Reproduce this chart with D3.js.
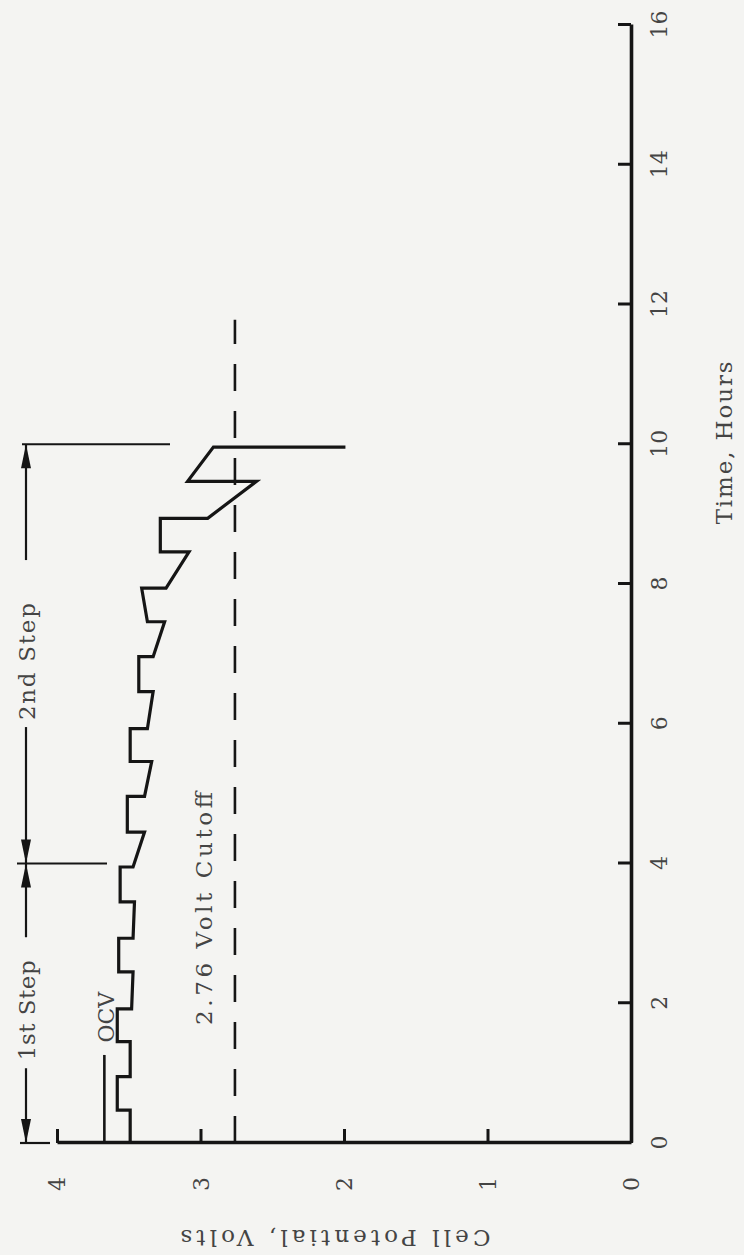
<!DOCTYPE html>
<html><head><meta charset="utf-8">
<script src="https://cdn.jsdelivr.net/npm/d3@7"></script>
<style>
html,body{margin:0;padding:0;background:#f4f4f2;}
svg{display:block;}
text{font-family:"DejaVu Serif","Liberation Serif",serif;fill:#444;}
</style></head>
<body>
<svg id="chart" width="744" height="1255"></svg>
<script>
// ---------- data ----------
const timeTicks = [0, 2, 4, 6, 8, 10, 12, 14, 16];
const voltTicks = [0, 1, 2, 3, 4];

// cell potential trace (time in hours, volts)
const curveTime = [0, 0.47, 0.47, 0.95, 0.95, 1.45, 1.45, 1.92, 1.92, 2.45, 2.45, 2.93, 2.93, 3.45, 3.45, 3.95,
  3.95, 4.45, 4.45, 4.96, 4.96, 5.46, 5.46, 5.93, 5.93, 6.46, 6.46, 6.96, 6.96, 7.46, 7.46, 7.94, 7.94, 8.46, 8.46,
  8.94, 8.94, 9.47, 9.47, 9.96, 9.96];
const curveVolt = [3.49, 3.49, 3.58, 3.58, 3.49, 3.49, 3.58, 3.58, 3.48, 3.47, 3.57, 3.57, 3.47, 3.46, 3.56, 3.56,
  3.47, 3.39, 3.51, 3.51, 3.39, 3.34, 3.49, 3.49, 3.37, 3.33, 3.43, 3.43, 3.33, 3.25, 3.37, 3.41, 3.24, 3.08, 3.28,
  3.28, 2.95, 2.61, 3.09, 2.91, 1.99];

// open circuit voltage line
const ocvTime = [0, 1.26];
const ocvVolt = [3.67, 3.67];

// 2.76 V cutoff (dashed)
const cutoffTime = [0, 11.78];
const cutoffVolt = [2.76, 2.76];

// step boundaries and labels
const stepBounds = [0, 4, 10];
const stepLabels = ["1st Step", "2nd Step"];
const stepLabelCenters = [1.9, 6.89];

// ---------- layout ----------
const W = 1118, H = 574;          // plot size in the un-rotated frame
const originX = 57, originY = 1143;

const svg = d3.select("#chart");
svg.append("rect").attr("width", 744).attr("height", 1255).attr("fill", "#f4f4f2");

const g = svg.append("g").attr("transform", `translate(${originX},${originY}) rotate(-90)`);

const x = d3.scaleLinear().domain([0, 16]).range([0, W]);
const y = d3.scaleLinear().domain([0, 4]).range([H, 0]);

const ink = "#151515";

// time axis
const xAxis = g.append("g").attr("transform", `translate(0,${H})`)
  .call(d3.axisBottom(x).tickValues(timeTicks).tickSizeInner(-13).tickSizeOuter(0).tickFormat(d3.format("d")));
xAxis.select(".domain").attr("stroke", ink).attr("stroke-width", 3.6);
xAxis.selectAll(".tick line").attr("stroke", ink).attr("stroke-width", 3);
xAxis.selectAll(".tick text").attr("y", 36).attr("dy", null)
  .style("font-size", "22px").style("font-family", '"DejaVu Serif",serif').attr("fill", "#4a4a4a");

// voltage axis
const yAxis = g.append("g")
  .call(d3.axisLeft(y).tickValues(voltTicks).tickSizeInner(-14).tickSizeOuter(0).tickFormat(d3.format("d")));
yAxis.select(".domain").attr("stroke", ink).attr("stroke-width", 3.6);
yAxis.selectAll(".tick line").attr("stroke", ink).attr("stroke-width", 3);
yAxis.selectAll(".tick text").attr("x", -41).attr("text-anchor", "middle").attr("dy", "0.36em")
  .style("font-size", "22px").style("font-family", '"DejaVu Serif",serif').attr("fill", "#4a4a4a");

// axis titles
g.append("text")
  .attr("transform", `translate(-87,${y(2.06)}) rotate(-90)`)
  .attr("text-anchor", "middle")
  .attr("textLength", 310).attr("lengthAdjust", "spacing")
  .style("font-size", "23px")
  .text("Cell Potential, Volts");

g.append("text")
  .attr("x", x(10.02)).attr("y", H + 101)
  .attr("text-anchor", "middle")
  .attr("textLength", 163).attr("lengthAdjust", "spacing")
  .style("font-size", "23px")
  .text("Time, Hours");

// cutoff dashed line
const line = d3.line().x(d => x(d[0])).y(d => y(d[1]));
g.append("path")
  .datum(d3.zip(cutoffTime, cutoffVolt))
  .attr("d", line).attr("fill", "none").attr("stroke", ink)
  .attr("stroke-width", 2.6).attr("stroke-dasharray", "27,20");

g.append("text")
  .attr("x", x(1.69)).attr("y", y(2.92))
  .attr("textLength", 233).attr("lengthAdjust", "spacing")
  .style("font-size", "23px")
  .text("2.76 Volt Cutoff");

// OCV line
g.append("path")
  .datum(d3.zip(ocvTime, ocvVolt))
  .attr("d", line).attr("fill", "none").attr("stroke", ink).attr("stroke-width", 2.6);
g.append("text")
  .attr("x", x(1.8)).attr("y", y(3.6))
  .attr("text-anchor", "middle")
  .style("font-size", "22px")
  .text("OCV");

// main trace
g.append("path")
  .datum(d3.zip(curveTime, curveVolt))
  .attr("d", line).attr("fill", "none").attr("stroke", ink)
  .attr("stroke-width", 3.2).attr("stroke-linejoin", "miter");

// ---------- step dimension annotation ----------
const dimV = -31;          // offset of dimension line above the plot (un-rotated frame)
const labelLens = [100, 117];
const gapBefore = [8, 7], gapAfter = [23, 43];
const dim = g.append("g").attr("stroke", ink).attr("stroke-width", 2.2);

stepLabels.forEach((lab, i) => {
  const a = x(stepBounds[i]), b = x(stepBounds[i + 1]);
  const c = x(stepLabelCenters[i]);
  const s = c - labelLens[i] / 2, e = c + labelLens[i] / 2;
  dim.append("line").attr("x1", a).attr("x2", s - gapBefore[i]).attr("y1", dimV).attr("y2", dimV);
  dim.append("line").attr("x1", e + gapAfter[i]).attr("x2", b).attr("y1", dimV).attr("y2", dimV);
  g.append("text").attr("x", c).attr("y", dimV + 9)
    .attr("text-anchor", "middle")
    .attr("textLength", labelLens[i]).attr("lengthAdjust", "spacing")
    .style("font-size", "23px").text(lab);
  // arrowheads
  const arrow = (tip, dir) => {
    const L = 24, w = 5;
    g.append("path")
      .attr("d", `M${tip},${dimV} L${tip + dir * L},${dimV - w} L${tip + dir * L},${dimV + w} Z`)
      .attr("fill", ink);
  };
  arrow(a, 1);
  arrow(b, -1);
});

// extension lines at step boundaries
const extFrom = [-6, -9, -4], extTo = [24, 81, 144];
stepBounds.forEach((t, i) => {
  dim.append("line").attr("x1", x(t)).attr("x2", x(t))
    .attr("y1", dimV + extFrom[i]).attr("y2", dimV + extTo[i]);
});
</script>
</body></html>
